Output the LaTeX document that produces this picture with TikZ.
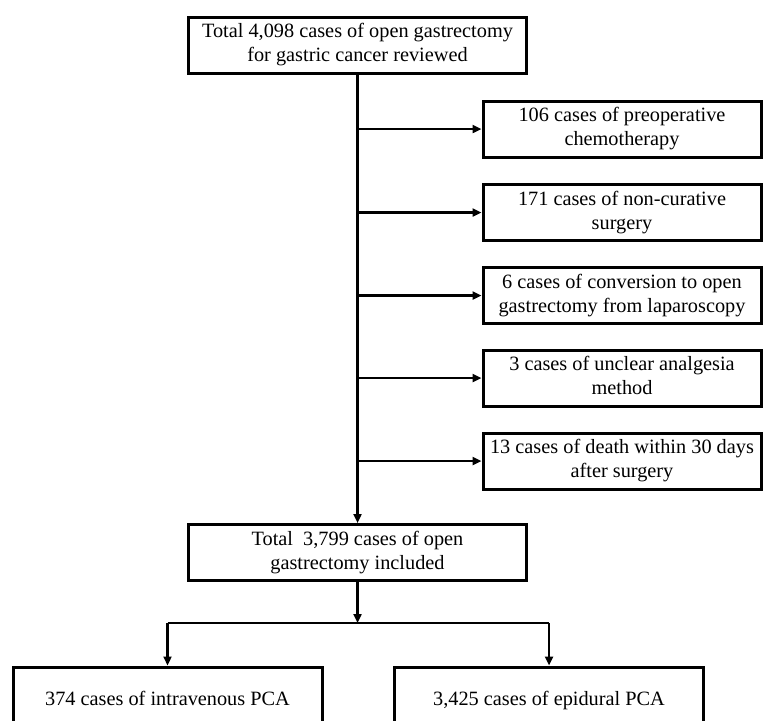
\documentclass[tikz,border=0pt]{standalone}
\usepackage{fontspec}
\setmainfont{Liberation Serif}
\usetikzlibrary{arrows.meta}
\newcommand{\topstrut}{\rule{0pt}{19pt}}
\newcommand{\botstrut}{\rule[-5pt]{0pt}{5pt}}
\begin{document}
\begin{tikzpicture}[x=1pt,y=-1pt,
  box/.style={draw,line width=3pt,rectangle,inner sep=0pt,align=center,
    font=\fontsize{20.3}{24}\selectfont,
    execute at begin node=\topstrut, execute at end node=\botstrut},
  mainbox/.style={box,minimum width=338pt,minimum height=56pt},
  sidebox/.style={box,minimum width=278pt,minimum height=56pt},
  lowbox/.style={box,minimum width=309pt,minimum height=62pt},
  link/.style={line width=2.4pt},
  conn/.style={link,-{Triangle[length=9pt,width=8pt]}}]
\useasboundingbox (0,0) rectangle (764,721);
\clip (0,0) rectangle (764,721);
\node[mainbox] (top) at (357.5,45) {Total 4,098 cases of open gastrectomy\\for gastric cancer reviewed};
\node[sidebox] (s1) at (622,129) {106 cases of preoperative\\chemotherapy};
\node[sidebox] (s2) at (622,212.5) {171 cases of non-curative\\surgery};
\node[sidebox] (s3) at (622,295.5) {6 cases of conversion to open\\gastrectomy from laparoscopy};
\node[sidebox] (s4) at (622,378) {3 cases of unclear analgesia\\method};
\node[sidebox] (s5) at (622,461) {13 cases of death within 30 days\\after surgery};
\node[mainbox] (mid) at (357.5,552.5) {Total\ \ 3,799 cases of open\\gastrectomy included};
\node[lowbox] (lb) at (167.5,698) {374 cases of intravenous PCA};
\node[lowbox] (rb) at (549,698) {3,425 cases of epidural PCA};
\draw[conn] (top.south) -- (mid.north);
\foreach \s in {s1,s2,s3,s4,s5}{
  \draw[conn] (top.south |- \s.west) -- (\s.west);
}
\coordinate (split) at (357.5,623);
\draw[conn] (mid.south) -- (split);
\draw[link] (lb.north |- split) -- (rb.north |- split);
\draw[conn] (lb.north |- split) -- (lb.north);
\draw[conn] (rb.north |- split) -- (rb.north);
\end{tikzpicture}
\end{document}
